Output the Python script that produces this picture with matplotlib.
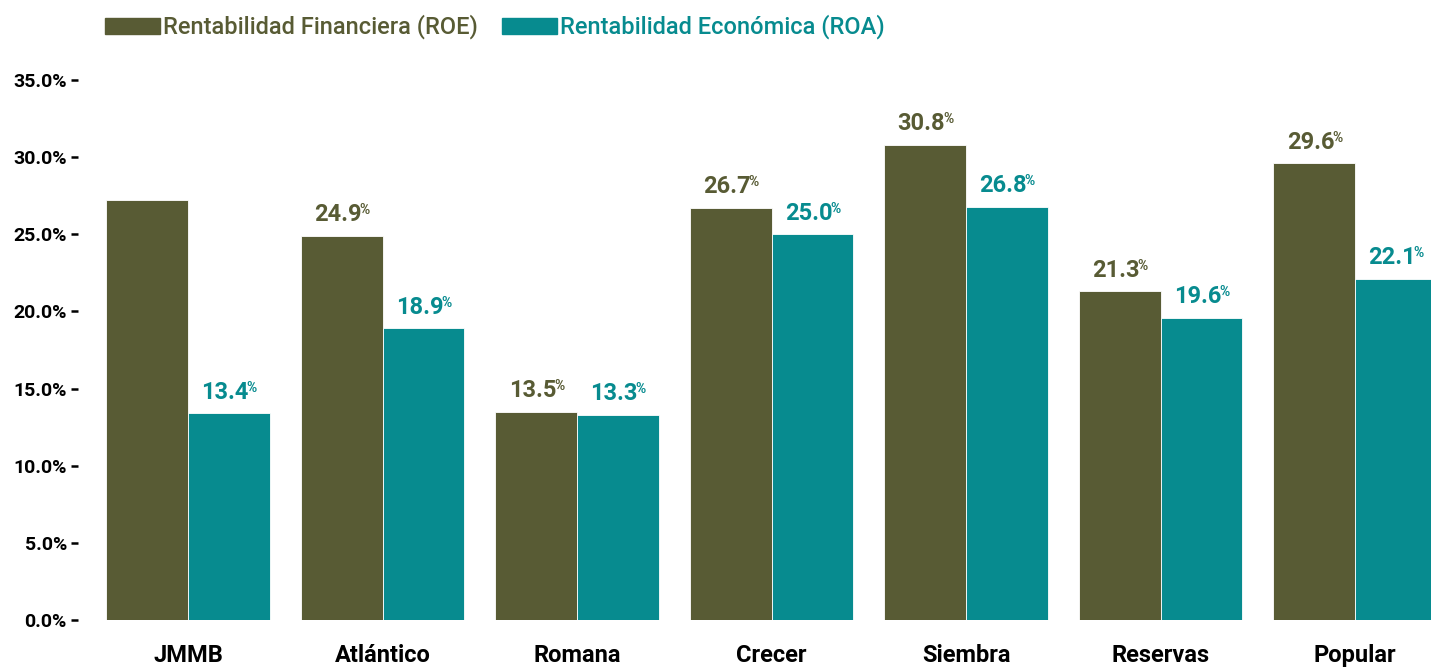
import numpy as np
import matplotlib.pyplot as plt
from matplotlib.patches import Patch

plt.rcParams['font.family'] = ['Roboto', 'DejaVu Sans']

bancos = ['JMMB', 'Atlántico', 'Romana', 'Crecer', 'Siembra', 'Reservas', 'Popular']
roe = [27.2, 24.9, 13.5, 26.7, 30.8, 21.3, 29.6]
roa = [13.4, 18.9, 13.3, 25.0, 26.8, 19.6, 22.1]
# JMMB ROE has no printed label in the source
roe_labels = [None, '24.9', '13.5', '26.7', '30.8', '21.3', '29.6']
roa_labels = ['13.4', '18.9', '13.3', '25.0', '26.8', '19.6', '22.1']
yticks = [0, 5, 10, 15, 20, 25, 30, 35]

c_roe = '#585B34'
c_roa = '#078B8F'

fig = plt.figure(figsize=(14.31, 6.67), dpi=100)
ax = fig.add_axes([78 / 1431, 47 / 667, 1 - 78 / 1431, (620 - 80) / 667])

x = np.arange(len(bancos))
w = 0.42
b1 = ax.bar(x - w / 2, roe, w, color=c_roe, edgecolor='white', linewidth=0.6)
b2 = ax.bar(x + w / 2, roa, w, color=c_roa, edgecolor='white', linewidth=0.6)

ax.set_xlim(-0.566, 6.39)
ax.set_ylim(0, 35)
ax.set_yticks(yticks)
ax.set_yticklabels([f'{v:.1f}%' for v in yticks], fontsize=14, fontweight='bold')
ax.set_xticks(x)
ax.set_xticklabels(bancos, fontsize=17, fontweight='bold')
ax.tick_params(axis='x', length=0, pad=17)
ax.tick_params(axis='y', length=5, width=1.8, pad=3, color='black')
for s in ax.spines.values():
    s.set_visible(False)


def label(bars, texts, color):
    for bar, t in zip(bars, texts):
        if t is None:
            continue
        cx = bar.get_x() + bar.get_width() / 2 - 0.02
        top = bar.get_height()
        num = ax.annotate(t, (cx, top), xytext=(0, 7), textcoords='offset points',
                          ha='center', va='bottom', fontsize=17, fontweight='bold',
                          color=color)
        ax.annotate('%', xy=(1, 1), xycoords=num, xytext=(-1.5, 0),
                    textcoords='offset points', ha='left', va='top',
                    fontsize=10, fontweight='bold', color=color)


label(b1, roe_labels, c_roe)
label(b2, roa_labels, c_roa)

handles = [Patch(color=c_roe), Patch(color=c_roa)]
fig.legend(handles, ['Rentabilidad Financiera (ROE)', 'Rentabilidad Económica (ROA)'],
           loc='upper left', bbox_to_anchor=(93 / 1431, 1 - 3 / 667), ncol=2,
           frameon=False, handlelength=2.35, handleheight=0.65,
           handletextpad=0.12, columnspacing=1.0, borderpad=0,
           labelcolor=[c_roe, c_roa], prop={'weight': 'medium', 'size': 17})

fig.savefig('out.png', dpi=100)
